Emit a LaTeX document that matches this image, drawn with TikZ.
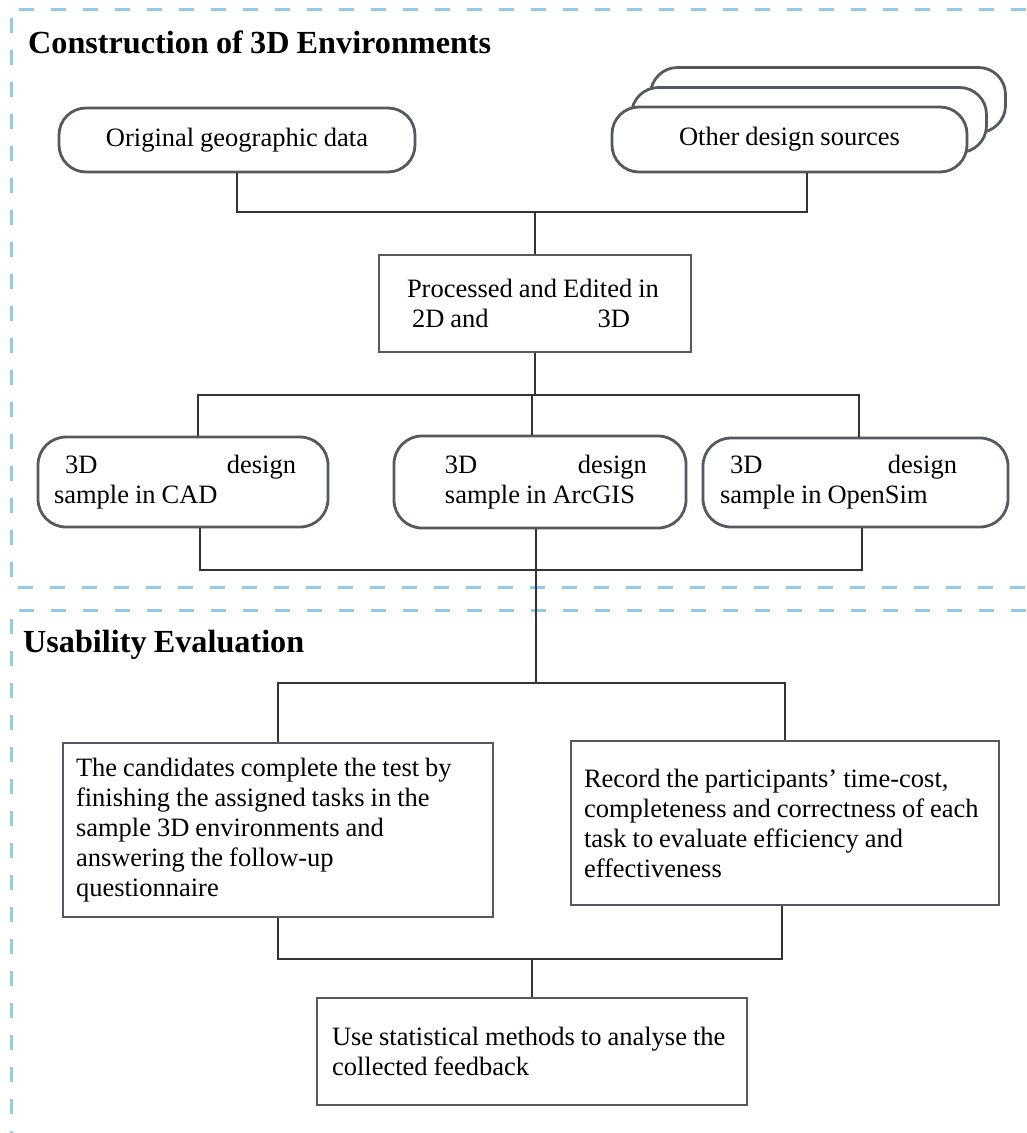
\documentclass[tikz,border=0pt]{standalone}
\usepackage{fontspec}
\setmainfont{Liberation Serif}[WordSpace=0.9]
\usetikzlibrary{calc}

\definecolor{framecol}{HTML}{92CBEA}
\definecolor{edgecol}{HTML}{555960}
\definecolor{wirecol}{HTML}{333333}

% a line set in a box of fixed width, flush left
\newcommand{\fixline}[2]{\makebox[#1][l]{#2}}

\tikzset{
  frame/.style={draw=framecol, line width=3pt, dash pattern=on 15pt off 17pt},
  pill/.style={draw=edgecol, line width=2.8pt, rounded corners=27pt, fill=white,
               font=\fontsize{26.5}{30}\selectfont, inner sep=0pt},
  rbox/.style={draw=edgecol, line width=2.8pt, rounded corners=28pt, fill=white,
               font=\fontsize{26.5}{30}\selectfont, align=left, inner sep=0pt},
  sbox/.style={draw=edgecol, line width=2.8pt, fill=white,
               font=\fontsize{26.5}{30}\selectfont, align=left, inner sep=0pt},
  wire/.style={draw=wirecol, line width=1.5pt},
  heading/.style={anchor=base west, inner sep=0pt, font=\fontsize{32.2}{36}\selectfont\bfseries}
}

\begin{document}
\begin{tikzpicture}[x=1pt, y=-1pt]
\useasboundingbox (0,0) rectangle (1026,1133);

% section frames
\draw[frame] (1026,9) -- (11,9) -- (11,587) -- (1026,587);
\draw[frame] (1026,610) -- (11,610) -- (11,1133);

% headings
\node[heading] (head1) at (28,53) {Construction of 3D Environments};
\node[heading] (head2) at (23,652) {Usability Evaluation};

% sources
\node[pill, minimum width=356pt, minimum height=64pt] (orig) at (237,140) {Original geographic data};
\node[pill, minimum width=355pt, minimum height=65pt] (other3) at (828,100) {};
\node[pill, minimum width=355pt, minimum height=65pt] (other2) at (809,120) {};
\node[pill, minimum width=355pt, minimum height=65pt] (other) at (789.5,139.5) {Other design sources};

% processing
\node[sbox, minimum width=312pt, minimum height=97pt] (proc) at (535,303.5)
  {\fixline{256pt}{Processed and Edited in}\\\hspace*{5pt}2D and\hspace{109pt}3D};

% design samples
\node[rbox, minimum width=290pt, minimum height=90pt] (cad) at (183,482)
  {\fixline{258pt}{\fixline{242pt}{\hspace{11pt}3D\hfill design}}\\sample in CAD};
\node[rbox, minimum width=292pt, minimum height=92pt] (arc) at (540,482)
  {\fixline{190pt}{\fixline{202pt}{3D\hfill design}}\\sample in ArcGIS};
\node[rbox, minimum width=305pt, minimum height=89pt] (osim) at (855.5,482.5)
  {\fixline{271pt}{\fixline{237pt}{\hspace{10pt}3D\hfill design}}\\sample in OpenSim};

% evaluation
\node[sbox, minimum width=430pt, minimum height=174pt] (cand) at (278,830)
  {\fixline{404pt}{The candidates complete the test by}\\finishing the assigned tasks in the\\sample 3D environments and\\answering the follow-up\\questionnaire};
\node[sbox, minimum width=428pt, minimum height=164pt] (rec) at (785,823)
  {\fixline{402pt}{Record the participants’ time-cost,}\\completeness and correctness of each\\task to evaluate efficiency and\\effectiveness};
\node[sbox, minimum width=430pt, minimum height=107pt] (fin) at (532,1051.5)
  {\fixline{400pt}{Use statistical methods to analyse the}\\collected feedback};

% junction points
\coordinate (bus1) at (535,212);
\coordinate (bus2) at (535,395);
\coordinate (bus3) at (536,570);
\coordinate (bus4) at (536,683);
\coordinate (bus5) at (532,959);

% connectors
\draw[wire] (orig.south) |- (bus1);
\draw[wire] ([xshift=17.5pt]other.south) |- (bus1);
\draw[wire] (bus1) -- (proc.north);

\draw[wire] (proc.south) -- (bus2);
\draw[wire] ([xshift=15pt]cad.north) |- (bus2);
\draw[wire] ([xshift=-8pt]arc.north) -- ([xshift=-8pt]arc.north |- bus2);
\draw[wire] ([xshift=3.5pt]osim.north) |- (bus2);

\draw[wire] ([xshift=17pt]cad.south) |- (bus3);
\draw[wire] ([xshift=6.5pt]osim.south) |- (bus3);
\draw[wire] ([xshift=-4pt]arc.south) -- (bus4);

\draw[wire] (cand.north) |- (bus4);
\draw[wire] (rec.north) |- (bus4);

\draw[wire] (cand.south) |- (bus5);
\draw[wire] ([xshift=-3pt]rec.south) |- (bus5);
\draw[wire] (bus5) -- (fin.north);
\end{tikzpicture}
\end{document}
